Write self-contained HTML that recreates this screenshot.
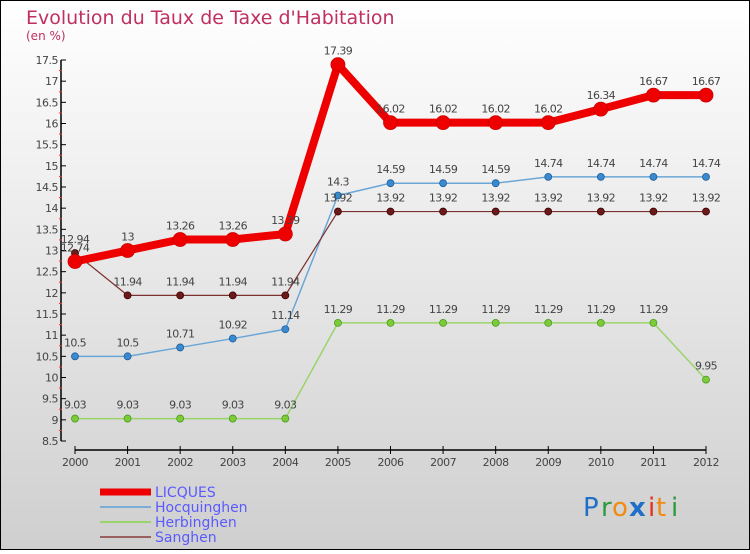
<!DOCTYPE html>
<html><head><meta charset="utf-8">
<style>
html,body{margin:0;padding:0;}
body{width:750px;height:550px;overflow:hidden;font-family:"DejaVu Sans","Liberation Sans",sans-serif;}
</style></head>
<body>
<svg id="chart" width="750" height="550" xmlns="http://www.w3.org/2000/svg">
<defs>
<linearGradient id="bg" x1="0" y1="0" x2="0" y2="1">
<stop offset="0" stop-color="#ffffff"/><stop offset="1" stop-color="#cfcfcf"/>
</linearGradient>
</defs>
<rect x="0.5" y="0.5" width="749" height="549" fill="url(#bg)" stroke="#000"/>
<text x="26" y="24" font-size="19" fill="#c0305f">Evolution du Taux de Taxe d'Habitation</text>
<text x="26" y="40" font-size="12" fill="#c0305f">(en %)</text>
<g id="axes"></g>
<g id="series"></g>
<g id="legend" font-size="14" fill="#5a5aff"></g>
<g font-size="26" font-family="'DejaVu Sans',sans-serif">
<text x="583" y="516" fill="#1f6fc9">P</text>
<text x="601" y="516" fill="#2a9a3a">r</text>
<text x="612" y="516" fill="#f08a10">o</text>
<text x="629" y="516" fill="#1f6fc9" font-weight="bold">x</text>
<text x="648" y="516" fill="#e8301c">i</text>
<text x="656" y="516" fill="#f08a10">t</text>
<text x="671" y="516" fill="#2a9a3a">i</text>
</g>
</svg>
<script>
const years = [2000,2001,2002,2003,2004,2005,2006,2007,2008,2009,2010,2011,2012];
const licques = [12.74,13,13.26,13.26,13.39,17.39,16.02,16.02,16.02,16.02,16.34,16.67,16.67];
const hocquinghen = [10.5,10.5,10.71,10.92,11.14,14.3,14.59,14.59,14.59,14.74,14.74,14.74,14.74];
const herbinghen = [9.03,9.03,9.03,9.03,9.03,11.29,11.29,11.29,11.29,11.29,11.29,11.29,9.95];
const sanghen = [12.94,11.94,11.94,11.94,11.94,13.92,13.92,13.92,13.92,13.92,13.92,13.92,13.92];
const yTicks = [8.5,9,9.5,10,10.5,11,11.5,12,12.5,13,13.5,14,14.5,15,15.5,16,16.5,17,17.5];
const seriesNames = ["LICQUES","Hocquinghen","Herbinghen","Sanghen"];

const NS="http://www.w3.org/2000/svg";
const yMin=8.5,yMax=17.5,yTop=60,yBot=441;
const xFirst=75,xLast=706;
const X=i=>xFirst+(xLast-xFirst)*i/(years.length-1);
const Y=v=>yBot-(v-yMin)/(yMax-yMin)*(yBot-yTop);
function mk(tag,attrs,parent){const e=document.createElementNS(NS,tag);for(const k in attrs)e.setAttribute(k,attrs[k]);parent.appendChild(e);return e;}
const axes=document.getElementById('axes');
const ax=mk('line',{x1:61,y1:Y(yMax),x2:61,y2:Y(yMin),stroke:'#000','stroke-width':1.5},axes);


yTicks.forEach((t,i)=>{
  const tk=mk('line',{x1:61,y1:Y(t),x2:66,y2:Y(t),stroke:'#000'},axes);
  
  
  const lb=mk('text',{x:58,y:Y(t)+4,'text-anchor':'end','font-size':11,fill:'#444','letter-spacing':'-0.5'},axes);
  lb.textContent=String(t);
  
  
  if(i<yTicks.length-1){
    const mt=mk('line',{x1:59,y1:Y(t+0.25),x2:62,y2:Y(t+0.25),stroke:'#e33'},axes);
    
    
  }
});
const xa=mk('line',{x1:X(0),y1:450,x2:X(years.length-1),y2:450,stroke:'#000','stroke-width':1.5},axes);


years.forEach((y,i)=>{
  const tk=mk('line',{x1:X(i),y1:446,x2:X(i),y2:454,stroke:'#000'},axes);
  
  
  const lb=mk('text',{x:X(i),y:466,'text-anchor':'middle','font-size':11,fill:'#444','letter-spacing':'-0.5'},axes);
  lb.textContent=String(y);
  
  
});
const sg=document.getElementById('series');
function draw(data,name,color,dot,w,r,edge){
  const g=mk('g',{},sg);
  
  
  const pts=data.map((v,i)=>X(i)+','+Y(v)).join(' ');
  const pl=mk('polyline',{points:pts,fill:'none',stroke:color,'stroke-width':w,'stroke-linejoin':'round'},g);
  
  
  data.forEach((v,i)=>{
    const c=mk('circle',{cx:X(i),cy:Y(v),r:r,fill:dot,stroke:edge,'stroke-width':0.8},g);
    
    
    const t=mk('text',{x:X(i),y:Y(v)-10,'text-anchor':'middle','font-size':11,fill:'#444','letter-spacing':'-0.6'},g);
    t.textContent=String(v);
    
    
  });
}
draw(herbinghen,'herbinghen','#9ad46a','#7ccc3a',1.5,3.5,'#4a9a20');
draw(hocquinghen,'hocquinghen','#6aa6d6','#3a8ad0',1.5,3.5,'#1f5f9a');
draw(sanghen,'sanghen','#7a3030','#6a1a1a',1.2,3.5,'#400');
draw(licques,'licques','#ee0000','#ee0000',8,7,'#cc0000');
const lg=document.getElementById('legend');
const lcol=['#ee0000','#7aaed6','#9ad46a','#9a6060'];
const lw=[7,2,2,2];
seriesNames.forEach((n,i)=>{
  const y=492+i*15;
  const l=mk('line',{x1:100,y1:y,x2:151,y2:y,stroke:lcol[i],'stroke-width':lw[i]},lg);
  
  
  const t=mk('text',{x:155,y:y+5},lg);
  t.textContent=n;
  
  
});
</script>
</body></html>
